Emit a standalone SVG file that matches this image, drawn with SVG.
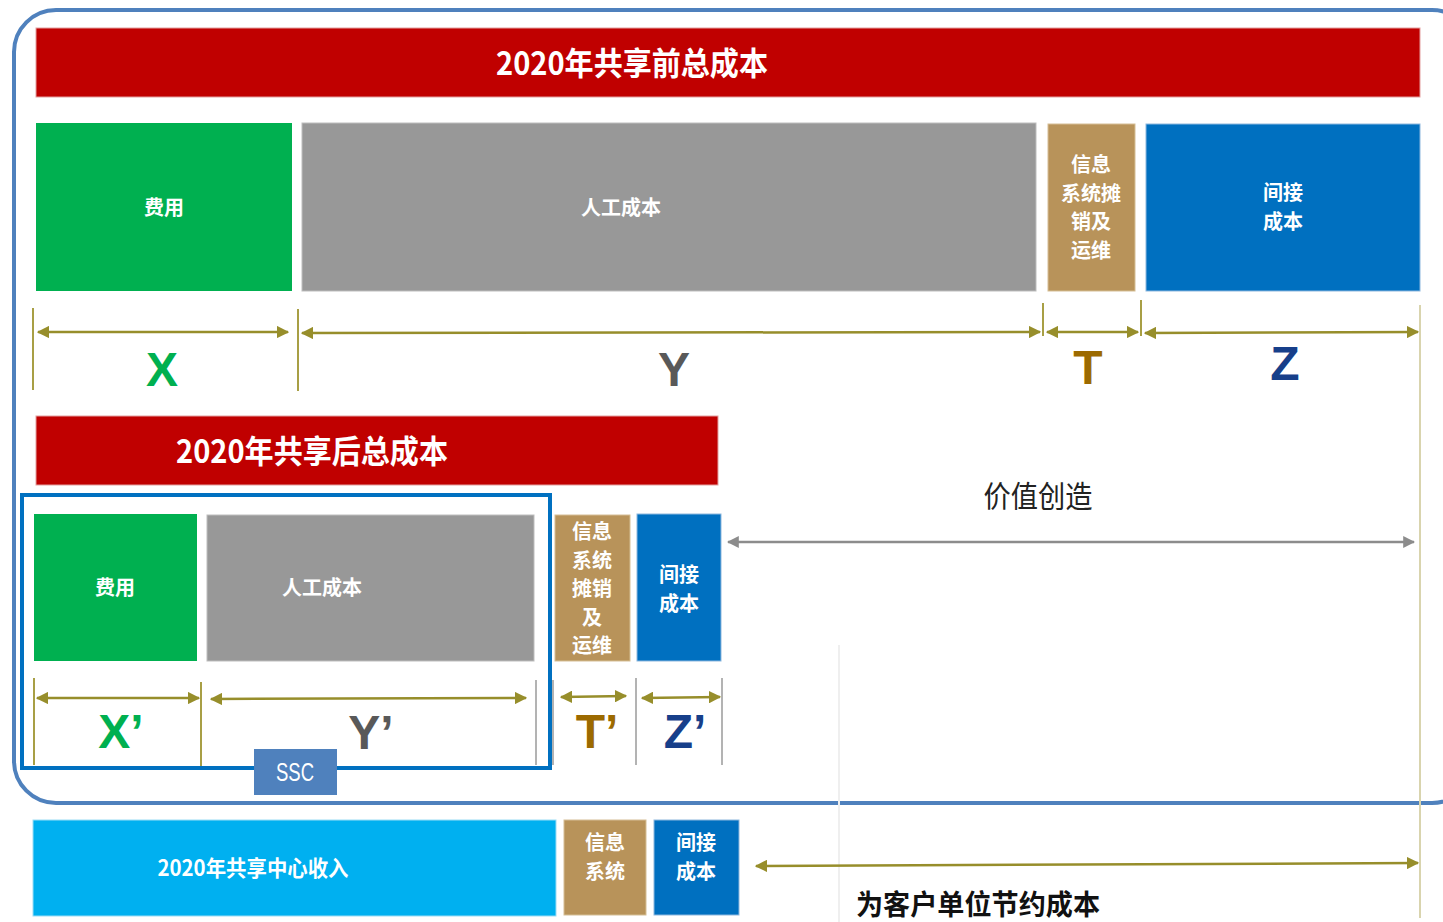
<svg xmlns="http://www.w3.org/2000/svg" width="1443" height="922" viewBox="0 0 1443 922">
<defs>
<style>
.cn{font-family:"Noto Sans CJK SC","Noto Sans",sans-serif;font-weight:700;fill:#fff;text-anchor:middle}
.lbl{font-family:"Liberation Sans","DejaVu Sans",sans-serif;font-weight:700;text-anchor:middle}
.dim{stroke:#978E2B;stroke-width:2.5;fill:none}
.tick{stroke:#A89F45;stroke-width:2;fill:none}
.gtick{stroke:#9A9A9A;stroke-width:1.5;fill:none}
</style>
<marker id="ah" viewBox="0 0 10 10" refX="9" refY="5" markerWidth="5" markerHeight="5" orient="auto-start-reverse" markerUnits="strokeWidth">
<path d="M0,0 L10,5 L0,10 z" fill="#978E2B"/>
</marker>
<marker id="ahg" viewBox="0 0 10 10" refX="9" refY="5" markerWidth="4.8" markerHeight="4.8" orient="auto-start-reverse" markerUnits="strokeWidth">
<path d="M0,0 L10,5 L0,10 z" fill="#8C8C8C"/>
</marker>
</defs>
<rect width="1443" height="922" fill="#fff"/>

<g id="frame">
<rect x="14" y="10" width="1460" height="793" rx="42" fill="none" stroke="#4F81BD" stroke-width="4"/>
<line x1="1420" y1="305" x2="1420" y2="918" stroke="#D9D4AE" stroke-width="2"/>
<line x1="839" y1="645" x2="839" y2="922" stroke="#EFEFEF" stroke-width="2"/>
</g>

<g id="banner-before">
<rect x="36" y="28" width="1384" height="69" fill="#C00000" stroke="#E3A0A0" stroke-width="1"/>
<text class="cn" x="632" y="75" font-size="32" textLength="272" lengthAdjust="spacingAndGlyphs">2020年共享前总成本</text>
</g>
<g id="fee1">
<rect x="36" y="123" width="256" height="168" fill="#00B050"/>
<text class="cn" x="164" y="215" font-size="20">费用</text>
</g>
<g id="labor1">
<rect x="302" y="123" width="734" height="168" fill="#989898" stroke="#BDBDBD" stroke-width="1"/>
<text class="cn" x="621" y="215" font-size="20">人工成本</text>
</g>
<g id="it1">
<rect x="1048" y="124" width="87" height="167" fill="#B8935A" stroke="#D5BE95" stroke-width="1"/>
<text class="cn" x="1091" y="172" font-size="20">信息</text>
<text class="cn" x="1091" y="201" font-size="20">系统摊</text>
<text class="cn" x="1091" y="229" font-size="20">销及</text>
<text class="cn" x="1091" y="258" font-size="20">运维</text>
</g>
<g id="indirect1">
<rect x="1146" y="124" width="274" height="167" fill="#0070C0" stroke="#8DB7DE" stroke-width="1"/>
<text class="cn" x="1283" y="200" font-size="20">间接</text>
<text class="cn" x="1283" y="229" font-size="20">成本</text>
</g>

<g id="banner-after">
<rect x="36" y="416" width="682" height="69" fill="#C00000" stroke="#E3A0A0" stroke-width="1"/>
<text class="cn" x="312" y="463" font-size="32" textLength="272" lengthAdjust="spacingAndGlyphs">2020年共享后总成本</text>
</g>
<g id="ssc">
<rect x="22" y="495" width="528" height="273" fill="none" stroke="#0070C0" stroke-width="4"/>
</g>
<g id="fee2">
<rect x="34" y="514" width="163" height="147" fill="#00B050"/>
<text class="cn" x="115" y="595" font-size="20">费用</text>
</g>
<g id="labor2">
<rect x="207" y="515" width="327" height="146" fill="#989898" stroke="#BDBDBD" stroke-width="1"/>
<text class="cn" x="322" y="595" font-size="20">人工成本</text>
</g>
<g id="it2">
<rect x="555" y="515" width="75" height="146" fill="#B8935A" stroke="#D5BE95" stroke-width="1"/>
<text class="cn" x="592" y="539" font-size="20">信息</text>
<text class="cn" x="592" y="568" font-size="20">系统</text>
<text class="cn" x="592" y="596" font-size="20">摊销</text>
<text class="cn" x="592" y="625" font-size="20">及</text>
<text class="cn" x="592" y="653" font-size="20">运维</text>
</g>
<g id="indirect2">
<rect x="637" y="514" width="84" height="147" fill="#0070C0" stroke="#8DB7DE" stroke-width="1"/>
<text class="cn" x="679" y="582" font-size="20">间接</text>
<text class="cn" x="679" y="611" font-size="20">成本</text>
</g>
<g id="ssc-label">
<rect x="254" y="749" width="83" height="46" fill="#4F81BD"/>
<text x="295" y="781" font-family="'Liberation Sans Narrow','Liberation Sans',sans-serif" font-size="25" fill="#fff" text-anchor="middle" textLength="38" lengthAdjust="spacingAndGlyphs">SSC</text>
</g>

<g id="value">
<text x="1038" y="507" font-family="'Noto Sans CJK SC',sans-serif" font-size="30" fill="#222" text-anchor="middle" textLength="109" lengthAdjust="spacingAndGlyphs">价值创造</text>
</g>

<g id="income">
<rect x="33" y="820" width="523" height="96" fill="#00B0F0" stroke="#9CDDF5" stroke-width="1"/>
<text class="cn" x="253" y="876" font-size="22" textLength="191" lengthAdjust="spacingAndGlyphs">2020年共享中心收入</text>
</g>
<g id="it3">
<rect x="564" y="820" width="82" height="95" fill="#B8935A" stroke="#D5BE95" stroke-width="1"/>
<text class="cn" x="605" y="850" font-size="20">信息</text>
<text class="cn" x="605" y="879" font-size="20">系统</text>
</g>
<g id="indirect3">
<rect x="654" y="820" width="85" height="95" fill="#0070C0" stroke="#8DB7DE" stroke-width="1"/>
<text class="cn" x="696" y="850" font-size="20">间接</text>
<text class="cn" x="696" y="879" font-size="20">成本</text>
</g>
<g id="saving">
<text x="978" y="915" font-family="'Noto Sans CJK SC',sans-serif" font-weight="700" font-size="28" fill="#111" text-anchor="middle" textLength="244" lengthAdjust="spacingAndGlyphs">为客户单位节约成本</text>
</g>

<g id="dimension-labels">
<text class="lbl" x="162" y="386" font-size="48" fill="#00B050">X</text>
<text class="lbl" x="674" y="386" font-size="48" fill="#595959">Y</text>
<text class="lbl" x="1088" y="384" font-size="48" fill="#9C6A00">T</text>
<text class="lbl" x="1285" y="380" font-size="48" fill="#173F8A">Z</text>
<text class="lbl" x="121" y="748" font-size="48" fill="#00B050">X’</text>
<text class="lbl" x="371" y="749" font-size="48" fill="#595959">Y’</text>
<text class="lbl" x="597" y="748" font-size="48" fill="#9C6A00">T’</text>
<text class="lbl" x="685" y="748" font-size="48" fill="#173F8A">Z’</text>
</g>

<g id="connectors">
<line class="tick" x1="33" y1="308" x2="33" y2="390"/>
<line class="tick" x1="298" y1="309" x2="298" y2="391"/>
<line class="tick" x1="1043" y1="303" x2="1043" y2="336"/>
<line class="tick" x1="1141" y1="300" x2="1141" y2="336"/>
<line class="dim" x1="38" y1="332" x2="288" y2="332" marker-start="url(#ah)" marker-end="url(#ah)"/>
<line class="dim" x1="302" y1="333" x2="1040" y2="332" marker-start="url(#ah)" marker-end="url(#ah)"/>
<line class="dim" x1="1047" y1="332" x2="1138" y2="332" marker-start="url(#ah)" marker-end="url(#ah)"/>
<line class="dim" x1="1145" y1="333" x2="1418" y2="332" marker-start="url(#ah)" marker-end="url(#ah)"/>

<line class="tick" x1="34" y1="678" x2="34" y2="765"/>
<line class="tick" x1="201" y1="682" x2="201" y2="766"/>
<line class="gtick" x1="536" y1="680" x2="536" y2="765"/>
<line class="gtick" x1="553" y1="680" x2="553" y2="765"/>
<line class="gtick" x1="636" y1="678" x2="636" y2="765"/>
<line class="gtick" x1="722" y1="678" x2="722" y2="765"/>
<line class="dim" x1="37" y1="698" x2="199" y2="698" marker-start="url(#ah)" marker-end="url(#ah)"/>
<line class="dim" x1="211" y1="699" x2="526" y2="698" marker-start="url(#ah)" marker-end="url(#ah)"/>
<line class="dim" x1="561" y1="697" x2="626" y2="696" marker-start="url(#ah)" marker-end="url(#ah)"/>
<line class="dim" x1="642" y1="698" x2="720" y2="697" marker-start="url(#ah)" marker-end="url(#ah)"/>

<line x1="728" y1="542" x2="1414" y2="542" stroke="#8C8C8C" stroke-width="2.5" marker-start="url(#ahg)" marker-end="url(#ahg)"/>
<line class="dim" x1="756" y1="866" x2="1418" y2="863" marker-start="url(#ah)" marker-end="url(#ah)"/>
</g>
</svg>
